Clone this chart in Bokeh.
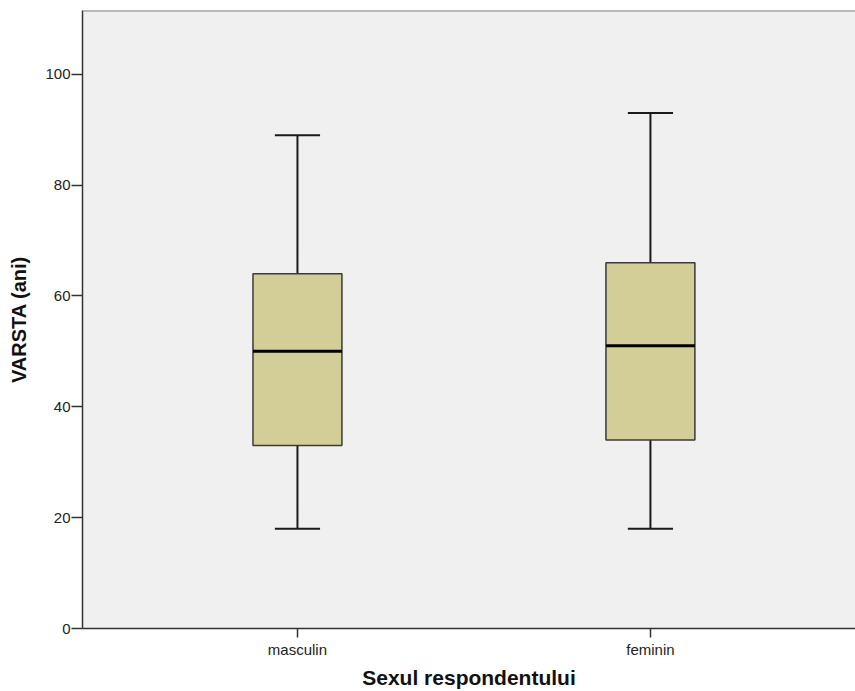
from bokeh.plotting import figure
from bokeh.models import FixedTicker, Range1d, Span
from bokeh.embed import file_html
from bokeh.resources import INLINE

categories = ["masculin", "feminin"]
mins = [18, 18]
q1 = [33, 34]
medians = [50, 51]
q3 = [64, 66]
maxs = [89, 93]
y_ticks = [0, 20, 40, 60, 80, 100]

xs = list(range(len(categories)))
box_w = 0.252
cap_half = 0.064
y_top = 111.5

p = figure(width=855, height=691, output_backend="svg", toolbar_location=None,
           x_range=Range1d(-0.609, 1.581), y_range=Range1d(0, y_top),
           min_border_left=82, min_border_right=0, min_border_top=10, min_border_bottom=0)
p.background_fill_color = "#F0F0F0"
p.border_fill_color = "white"
p.outline_line_color = None
p.xgrid.visible = False
p.ygrid.visible = False
p.add_layout(Span(location=y_top, dimension="width", line_color="#808080", line_width=2))

# whiskers
p.segment(x0=xs, y0=q3, x1=xs, y1=maxs, line_color="#1a1a1a", line_width=2)
p.segment(x0=xs, y0=mins, x1=xs, y1=q1, line_color="#1a1a1a", line_width=2)
# caps
p.segment(x0=[x - cap_half for x in xs], y0=maxs, x1=[x + cap_half for x in xs], y1=maxs,
          line_color="#1a1a1a", line_width=2)
p.segment(x0=[x - cap_half for x in xs], y0=mins, x1=[x + cap_half for x in xs], y1=mins,
          line_color="#1a1a1a", line_width=2)
# boxes
p.vbar(x=xs, width=box_w, bottom=q1, top=q3, fill_color="#D3CE98",
       line_color="#3a3a3a", line_width=1.5)
# medians
p.segment(x0=[x - box_w / 2 for x in xs], y0=medians, x1=[x + box_w / 2 for x in xs], y1=medians,
          line_color="black", line_width=3)

for ax in (p.xaxis[0], p.yaxis[0]):
    ax.axis_line_color = "#333333"
    ax.axis_line_width = 1.5
    ax.major_tick_line_color = "#333333"
    ax.major_tick_line_width = 1.5
    ax.major_tick_in = 0
    ax.minor_tick_line_color = None
    ax.major_label_text_font = "Liberation Sans"
    ax.major_label_text_font_size = "15px"
    ax.major_label_text_color = "#222222"
    ax.axis_label_text_font = "Liberation Sans"
    ax.axis_label_text_font_style = "bold"
    ax.axis_label_text_color = "#111111"

p.xaxis.axis_label_text_font_size = "21px"
p.yaxis.axis_label_text_font_size = "20px"
p.yaxis.ticker = FixedTicker(ticks=y_ticks)
p.xaxis.ticker = FixedTicker(ticks=xs)
p.xaxis.major_label_overrides = {x: c for x, c in zip(xs, categories)}
p.xaxis.axis_label = "Sexul respondentului"
p.yaxis.axis_label = "VARSTA (ani)"
p.yaxis.major_tick_out = 11
p.xaxis.major_tick_out = 9
p.xaxis.major_label_standoff = 3
p.xaxis.axis_label_standoff = 5
p.yaxis.major_label_standoff = 1
p.yaxis.axis_label_standoff = 12

open("out.html", "w").write(file_html(p, INLINE))
